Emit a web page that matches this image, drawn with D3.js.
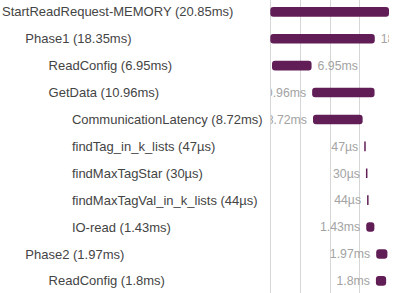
<!DOCTYPE html>
<html>
<head>
<meta charset="utf-8">
<script src="https://cdn.jsdelivr.net/npm/d3@7"></script>
<style>
  html, body { margin: 0; padding: 0; background: #fff; overflow: hidden; }
  svg { display: block; font-family: "Liberation Sans", Helvetica, Arial, sans-serif; }
</style>
</head>
<body>
<div id="chart"></div>
<script>
const width = 395;
const height = 293;

// span names, nesting depth, start offset (ms), duration (ms), duration text
const names = ['StartReadRequest-MEMORY', 'Phase1', 'ReadConfig', 'GetData',
  'CommunicationLatency', 'findTag_in_k_lists', 'findMaxTagStar',
  'findMaxTagVal_in_k_lists', 'IO-read', 'Phase2', 'ReadConfig'];
const levels = [0, 1, 2, 2, 3, 3, 3, 3, 3, 1, 2];
const starts = [0, 0, 0.3, 7.35, 7.5, 16.5, 16.8, 17.0, 16.85, 18.6, 18.55];
const durations = [20.85, 18.35, 6.95, 10.96, 8.72, 0.047, 0.03, 0.044, 1.43, 1.97, 1.8];
const durLabels = ['20.85ms', '18.35ms', '6.95ms', '10.96ms', '8.72ms', '47µs', '30µs',
  '44µs', '1.43ms', '1.97ms', '1.8ms'];

const total = durations[0];
const rows = names.map((name, i) => ({
  name, level: levels[i], start: starts[i], dur: durations[i], label: durLabels[i], i
}));

const svg = d3.select('#chart').append('svg')
  .attr('width', width)
  .attr('height', height);

const x = d3.scaleLinear()
  .domain([0, total])
  .range([270.3, 389]);

const y = d3.scaleBand()
  .domain(d3.range(rows.length))
  .range([-1.6, 294.3]);

// duration labels only show inside the timeline pane
svg.append('defs').append('clipPath')
  .attr('id', 'pane')
  .append('rect')
    .attr('x', 271)
    .attr('y', 0)
    .attr('width', 389 - 271)
    .attr('height', height);

// gridlines at quarters of the total span
svg.append('g')
  .selectAll('line')
  .data([0, 0.25, 0.5, 0.75].map(f => f * total))
  .join('line')
    .attr('x1', d => Math.round(x(d)) + 0.5)
    .attr('x2', d => Math.round(x(d)) + 0.5)
    .attr('y1', 0)
    .attr('y2', height)
    .attr('stroke', '#d6d6d6')
    .attr('stroke-width', 1);

const row = svg.append('g')
  .selectAll('g')
  .data(rows)
  .join('g')
    .attr('transform', d => `translate(0,${y(d.i) + y.bandwidth() / 2})`);

row.append('text')
  .attr('x', d => 2 + d.level * 23.3)
  .attr('dy', '0.35em')
  .attr('fill', '#444')
  .style('font-size', '13px')
  .text(d => `${d.name} (${d.label})`);

const barH = 9.6;
row.append('rect')
  .attr('x', d => x(d.start))
  .attr('y', -barH / 2)
  .attr('width', d => Math.max(1.5, x(d.start + d.dur) - x(d.start)))
  .attr('height', barH)
  .attr('rx', d => Math.min(3, (x(d.start + d.dur) - x(d.start)) / 2))
  .attr('fill', '#611e56');

// duration text: right of the bar near the start, left of it otherwise
const onRight = d => d.start < total / 4;
svg.append('g')
  .attr('clip-path', 'url(#pane)')
  .selectAll('text')
  .data(rows)
  .join('text')
    .attr('x', d => onRight(d) ? x(d.start + d.dur) + 6 : x(d.start) - 6)
    .attr('y', d => y(d.i) + y.bandwidth() / 2)
    .attr('text-anchor', d => onRight(d) ? 'start' : 'end')
    .attr('dy', '0.35em')
    .attr('fill', '#a3a3a3')
    .style('font-size', '12.3px')
    .text(d => d.label);
</script>
</body>
</html>
